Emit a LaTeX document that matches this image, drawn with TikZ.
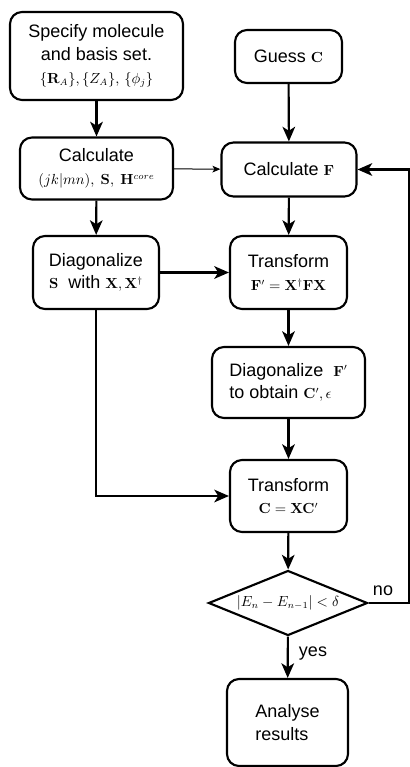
\documentclass[tikz,border=0pt]{standalone}
\usepackage[no-math]{fontspec}
\setmainfont{Liberation Sans}
\usetikzlibrary{arrows.meta,shapes.geometric}

\newcommand{\mth}[1]{{\fontsize{10.5}{12}\selectfont$#1$}}

\tikzset{every picture/.style={line width=1.6pt}}
\tikzset{
	stepbox/.style={draw, rounded corners=9pt, align=center, inner sep=0pt,
		font=\fontsize{13.5}{17}\selectfont},
	testbox/.style={draw, diamond, inner sep=0pt},
	flow/.style={-{Stealth[length=11pt,width=9.5pt,inset=3pt]}},
	thinflow/.style={line width=0.75pt, -{Stealth[length=6pt,width=5pt,inset=1.5pt]}},
	tag/.style={font=\fontsize{13.5}{17}\selectfont}}

\begin{document}
\begin{tikzpicture}[x=0.75pt,y=0.75pt,yscale=-1,xscale=1]
	\useasboundingbox (0,0) rectangle (410,767);

	%Input box
	\node[stepbox, minimum width=129.75pt, minimum height=66pt] (spec) at (96.5,56)
		{Specify molecule\\ and basis set.\\ \mth{\{\mathbf{R}_A\},\{Z_A\},\,\{\phi_j\}}};
	%Guess box
	\node[stepbox, minimum width=80.25pt, minimum height=39.75pt] (guess) at (288.5,56.5)
		{Guess \mth{\mathbf{C}}};
	%Integrals box
	\node[stepbox, minimum width=114.75pt, minimum height=46.5pt] (calcint) at (96.5,168.5)
		{Calculate\\ \mth{(jk|mn),\ \mathbf{S},\ \mathbf{H}^{core}}};
	%Fock box
	\node[stepbox, minimum width=101.25pt, minimum height=40.5pt] (calcfock) at (289,169.5)
		{Calculate \mth{\mathbf{F}}};
	%Diagonalize S
	\node[stepbox, minimum width=94.5pt, minimum height=54.75pt] (diags) at (96,272.5)
		{Diagonalize\\ \mth{\mathbf{S}}\ \ with \mth{\mathbf{X},\mathbf{X}^\dagger}};
	%Transform F
	\node[stepbox, minimum width=87.75pt, minimum height=54.75pt] (transf) at (288.5,272.5)
		{Transform\\ \mth{\mathbf{F}'=\mathbf{X}^\dagger\mathbf{F}\mathbf{X}}};
	%Diagonalize F'
	\node[stepbox, align=left, minimum width=114.75pt, minimum height=53.25pt] (diagf) at (288.5,382.5)
		{Diagonalize\ \ \mth{\mathbf{F}'}\\ to obtain \mth{\mathbf{C}',\epsilon}};
	%Transform C
	\node[stepbox, minimum width=87.75pt, minimum height=54pt] (transc) at (288.5,496)
		{Transform\\ \mth{\mathbf{C}=\mathbf{X}\mathbf{C}'}};
	%Convergence test
	\node[testbox, minimum width=119.25pt, minimum height=48.75pt] (conv) at (288,603)
		{\makebox[0pt]{\mth{|E_n-E_{n-1}|<\delta}}};
	%Result box
	\node[stepbox, align=left, minimum width=90.75pt, minimum height=65.25pt] (result) at (287.5,722.5)
		{Analyse\\ results};
	\coordinate (loopb) at (409,603);
	\coordinate (loopt) at (409,169.5);

	%Connectors
	\draw[flow] (spec) -- (calcint);
	\draw[flow] (guess) -- (calcfock);
	\draw[thinflow] (calcint) -- (calcfock);
	\draw[flow] (calcint) -- (diags);
	\draw[flow] (calcfock) -- (transf);
	\draw[flow] (diags.east |- transf.west) -- (transf.west);
	\draw[flow] (transf) -- (diagf);
	\draw[flow] (diagf) -- (transc);
	\draw[flow] (diags.south) |- (transc.west);
	\draw[flow] (transc) -- (conv);
	\draw[flow] (conv) -- (result);
	\draw[flow] (conv.east) -- (loopb) -- (loopt) -- (calcfock.east);

	% Text Node
	\node[tag] (nolabel) at (383,591) {no};
	% Text Node
	\node[tag] (yeslabel) at (313,654) {yes};

\end{tikzpicture}
\end{document}
